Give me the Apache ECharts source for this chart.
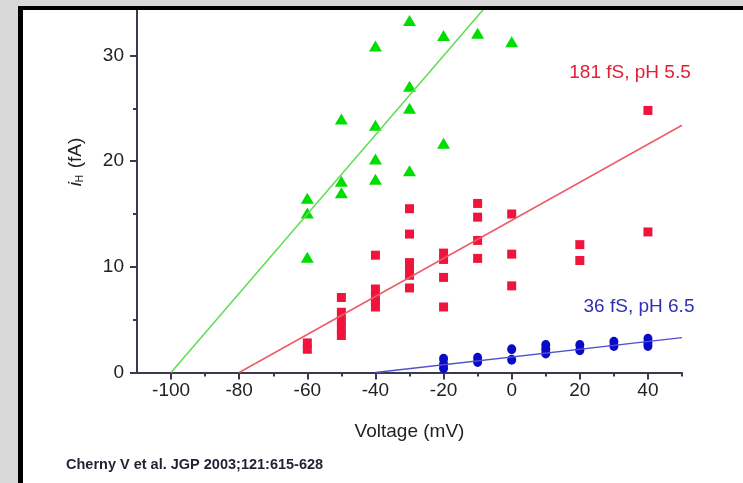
<!DOCTYPE html>
<html>
<head>
<meta charset="utf-8">
<script src="https://cdn.jsdelivr.net/npm/echarts@6/dist/echarts.min.js"></script>
<style>
html, body { margin: 0; padding: 0; background: #fff; }
#chart { width: 743px; height: 483px; }
</style>
</head>
<body>
<div id="chart"></div>
<script>
// tick positions
var xMajor = [-100, -80, -60, -40, -20, 0, 20, 40];
var xMinor = [-90, -70, -50, -30, -10, 10, 30, 50];
var yMajor = [0, 10, 20, 30];
var yMinor = [5, 15, 25];

// 181 fS, pH 5.5 (red squares)
var redPts = [
    [-60, 2.8], [-60, 2.2],
    [-50, 7.1], [-50, 5.7], [-50, 4.9], [-50, 4.2], [-50, 3.5],
    [-40, 11.1], [-40, 7.9], [-40, 7.2], [-40, 6.7], [-40, 6.2],
    [-30, 15.5], [-30, 13.1], [-30, 10.4], [-30, 9.8], [-30, 9.2], [-30, 8.0],
    [-20, 11.3], [-20, 10.7], [-20, 9.0], [-20, 6.2],
    [-10, 16.0], [-10, 14.7], [-10, 12.5], [-10, 10.8],
    [0, 15.0], [0, 11.2], [0, 8.2],
    [20, 12.1], [20, 10.6],
    [40, 24.8], [40, 13.3]
];
// green triangles
var greenPts = [
    [-60, 16.5], [-60, 15.1], [-60, 10.9],
    [-50, 24.0], [-50, 18.1], [-50, 17.0],
    [-40, 30.9], [-40, 23.4], [-40, 20.2], [-40, 18.3],
    [-30, 33.3], [-30, 27.1], [-30, 25.0], [-30, 19.1],
    [-20, 31.9], [-20, 21.7],
    [-10, 32.1],
    [0, 31.3]
];
// 36 fS, pH 6.5 (blue circles)
var bluePts = [
    [-20, 1.3], [-20, 0.8], [-20, 0.4],
    [-10, 1.4], [-10, 1.0],
    [0, 2.2], [0, 1.2],
    [10, 2.6], [10, 2.2], [10, 1.8],
    [20, 2.6], [20, 2.1],
    [30, 2.9], [30, 2.5],
    [40, 3.2], [40, 2.8], [40, 2.5]
];
// fitted lines (end points)
var greenFit = [[-100, 0], [-8.2, 34.4]];
var redFit = [[-80, 0], [50, 23.4]];
var blueFit = [[-40, 0], [50, 3.3]];

var dom = document.getElementById('chart');
var myChart = echarts.init(dom);
var axisColor = '#3b3b4d';
var font = 'Liberation Sans, Arial, sans-serif';

var option = {
    backgroundColor: '#fff',
    animation: false,
    grid: { left: 137, right: 61, top: 9, bottom: 110.5 },
    xAxis: [
        {
            type: 'value', min: -110, max: 50,
            name: 'Voltage (mV)', nameLocation: 'middle', nameGap: 50,
            nameTextStyle: { fontSize: 19, color: '#222', fontFamily: font },
            axisLine: { onZero: false, lineStyle: { color: axisColor, width: 2 } },
            axisTick: { customValues: xMajor, length: 7, lineStyle: { color: axisColor, width: 2 } },
            axisLabel: { customValues: xMajor, fontSize: 19, color: '#222', margin: 9, fontFamily: font },
            splitLine: { show: false }
        },
        {
            type: 'value', min: -110, max: 50, position: 'bottom',
            axisLine: { show: false, onZero: false },
            axisTick: { customValues: xMinor, length: 4, lineStyle: { color: axisColor, width: 2 } },
            axisLabel: { show: false },
            splitLine: { show: false }
        }
    ],
    yAxis: [
        {
            type: 'value', min: 0, max: 34.4,
            axisLine: { show: true, onZero: false, lineStyle: { color: axisColor, width: 2 } },
            axisTick: { show: true, customValues: yMajor, length: 7, lineStyle: { color: axisColor, width: 2 } },
            axisLabel: { customValues: yMajor, fontSize: 19, color: '#222', margin: 13, fontFamily: font },
            splitLine: { show: false }
        },
        {
            type: 'value', min: 0, max: 34.4, position: 'left',
            axisLine: { show: false, onZero: false },
            axisTick: { show: true, customValues: yMinor, length: 4, lineStyle: { color: axisColor, width: 2 } },
            axisLabel: { show: false },
            splitLine: { show: false }
        }
    ],
    series: [
        {
            type: 'line', data: greenFit, symbol: 'none', silent: true,
            lineStyle: { color: '#5fdc55', width: 1.5 }
        },
        {
            type: 'line', data: redFit, symbol: 'none', silent: true,
            lineStyle: { color: '#ef5a69', width: 1.5 }
        },
        {
            type: 'line', data: blueFit, symbol: 'none', silent: true,
            lineStyle: { color: '#5050d0', width: 1.5 }
        },
        {
            type: 'scatter', data: greenPts, symbol: 'triangle', symbolSize: [13, 11],
            itemStyle: { color: '#00dd00', opacity: 1 }
        },
        {
            type: 'scatter', data: redPts, symbol: 'rect', symbolSize: [9, 9],
            itemStyle: { color: '#f0143c', opacity: 1 }
        },
        {
            type: 'scatter', data: bluePts, symbol: 'circle', symbolSize: [9, 10],
            itemStyle: { color: '#0a0ac8', opacity: 1 }
        }
    ],
    graphic: [
        // gray surround and black frame
        { type: 'rect', shape: { x: 0, y: 0, width: 743, height: 6 }, style: { fill: '#d9d9d9' }, z: 100 },
        { type: 'rect', shape: { x: 0, y: 0, width: 18, height: 483 }, style: { fill: '#d9d9d9' }, z: 100 },
        { type: 'rect', shape: { x: 18, y: 6, width: 725, height: 4 }, style: { fill: '#000' }, z: 100 },
        { type: 'rect', shape: { x: 18, y: 6, width: 5, height: 477 }, style: { fill: '#000' }, z: 100 },
        {
            type: 'text', x: 76, y: 162, rotation: Math.PI / 2, z: 100,
            style: {
                text: '{i|i}{h|H}  {n|(fA)}',
                align: 'center', verticalAlign: 'middle',
                rich: {
                    i: { fontSize: 19, fontStyle: 'italic', fill: '#222', fontFamily: font },
                    h: { fontSize: 10, fill: '#222', fontFamily: font, verticalAlign: 'bottom', padding: [9, 0, 0, 0] },
                    n: { fontSize: 19, fill: '#222', fontFamily: font }
                }
            }
        },
        {
            type: 'text', x: 630, y: 73, z: 100,
            style: { text: '181 fS, pH 5.5', fontSize: 19, fill: '#e0203a', fontFamily: font, align: 'center', verticalAlign: 'middle' }
        },
        {
            type: 'text', x: 639, y: 307, z: 100,
            style: { text: '36 fS, pH 6.5', fontSize: 19, fill: '#2f2fb4', fontFamily: font, align: 'center', verticalAlign: 'middle' }
        },
        {
            type: 'text', x: 66, y: 465, z: 100,
            style: { text: 'Cherny V et al. JGP 2003;121:615-628', fontSize: 14.5, fontWeight: 'bold', fill: '#1e2233', fontFamily: font, align: 'left', verticalAlign: 'middle' }
        }
    ]
};

if (option && typeof option === "object") {
    myChart.setOption(option, true);
}
</script>
</body>
</html>
